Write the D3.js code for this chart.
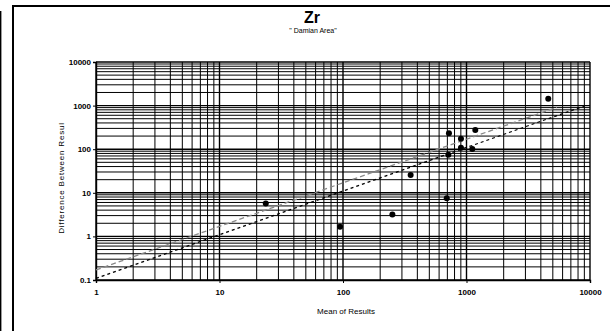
<!DOCTYPE html>
<html><head><meta charset="utf-8">
<script src="https://cdn.jsdelivr.net/npm/d3@7"></script>
<style>body{margin:0;background:#fff}svg{display:block}</style>
</head><body><svg id="c" width="610" height="331"></svg>
<script>
const meanValues = [23.7, 94.6, 251, 353, 692, 713, 721, 902, 902, 1114, 1178, 4592];
const diffValues = [5.7, 1.67, 3.2, 25.6, 7.5, 74.8, 232, 174, 108, 101, 275, 1439];
const xTickValues = [1, 10, 100, 1000, 10000];
const xTickLabels = ["1", "10", "100", "1000", "10000"];
const yTickValues = [0.1, 1, 10, 100, 1000, 10000];
const yTickLabels = ["0.1", "1", "10", "100", "1000", "10000"];
const blackLineX = [1, 9000];
const blackLineY = [0.109, 985];
const grayLineX = [1, 5400];
const grayLineY = [0.17, 915];
const titleText = "Zr";
const subtitleText = "\" Damian Area\"";
const xLabel = "Mean of Results";
const yLabel = "Difference Between Resul";

const svg = d3.select("#c");
const font = "Liberation Sans, Arial, sans-serif";
const x = d3.scaleLog().domain([1, 10000]).range([96, 590]);
const y = d3.scaleLog().domain([0.1, 10000]).range([280, 62]);

// frame
svg.append("line").attr("x1", 13).attr("y1", 6).attr("x2", 612).attr("y2", 6).attr("stroke", "#000").attr("stroke-width", 2);
svg.append("line").attr("x1", 13).attr("y1", 5).attr("x2", 13).attr("y2", 331).attr("stroke", "#000").attr("stroke-width", 2);
svg.append("line").attr("x1", 0.7).attr("y1", 11).attr("x2", 0.7).attr("y2", 331).attr("stroke", "#000").attr("stroke-width", 1.4);

// grid
const gridVals = (lo, hi) => { const a = []; for (let e = lo; e < hi; e++) for (let k = 1; k <= 9; k++) a.push(k * Math.pow(10, e)); a.push(Math.pow(10, hi)); return a; };
const isMajor = d => Math.abs(Math.log10(d) - Math.round(Math.log10(d))) < 1e-9;
const xg = gridVals(0, 4), yg = gridVals(-1, 4);
const g = svg.append("g");
g.selectAll(".vx").data(xg).join("line")
  .attr("x1", d => x(d)).attr("x2", d => x(d)).attr("y1", y(10000)).attr("y2", y(0.1))
  .attr("stroke", "#000").attr("stroke-width", d => isMajor(d) ? 1.4 : 1);
g.selectAll(".hy").data(yg).join("line")
  .attr("y1", d => y(d)).attr("y2", d => y(d)).attr("x1", x(1)).attr("x2", x(10000))
  .attr("stroke", "#000").attr("stroke-width", d => isMajor(d) ? 1.4 : 1);

// axes
const xAxis = d3.axisBottom(x).tickValues(xTickValues).tickFormat((d, i) => xTickLabels[i]).tickSize(3).tickPadding(6);
const yAxis = d3.axisLeft(y).tickValues(yTickValues).tickFormat((d, i) => yTickLabels[i]).tickSize(3).tickPadding(2);
const gx = svg.append("g").attr("transform", `translate(0,${y(0.1)})`).call(xAxis);
const gy = svg.append("g").attr("transform", `translate(${x(1)},0)`).call(yAxis);
[gx, gy].forEach(a => {
  a.select(".domain").attr("stroke", "#000").attr("stroke-width", 1.4);
  a.selectAll("text").attr("font-family", font).attr("font-size", 8).attr("font-weight", "bold").attr("fill", "#000");
});

// lines
const lineGen = d3.line().x(d => x(d[0])).y(d => y(d[1]));
svg.append("path").datum(grayLineX.map((v, i) => [v, grayLineY[i]])).attr("d", lineGen)
  .attr("fill", "none").attr("stroke", "#888").attr("stroke-width", 1.3).attr("stroke-dasharray", "5,3");
svg.append("path").datum(blackLineX.map((v, i) => [v, blackLineY[i]])).attr("d", lineGen)
  .attr("fill", "none").attr("stroke", "#000").attr("stroke-width", 1.3).attr("stroke-dasharray", "3,3");

// points
svg.selectAll(".pt").data(meanValues.map((v, i) => [v, diffValues[i]])).join("circle")
  .attr("cx", d => x(d[0])).attr("cy", d => y(d[1])).attr("r", 3).attr("fill", "#000");

// text
svg.append("text").attr("x", 312).attr("y", 23).attr("text-anchor", "middle").attr("font-family", font)
  .attr("font-size", 16).attr("font-weight", "bold").text(titleText);
svg.append("text").attr("x", 313).attr("y", 33).attr("text-anchor", "middle").attr("font-family", font)
  .attr("font-size", 7).text(subtitleText);
svg.append("text").attr("x", 346).attr("y", 314).attr("text-anchor", "middle").attr("font-family", font)
  .attr("font-size", 8).text(xLabel);
svg.append("text").attr("transform", "translate(64,178) rotate(-90)").attr("text-anchor", "middle").attr("font-family", font)
  .attr("font-size", 8).attr("letter-spacing", 0.8).text(yLabel);
</script></body></html>
